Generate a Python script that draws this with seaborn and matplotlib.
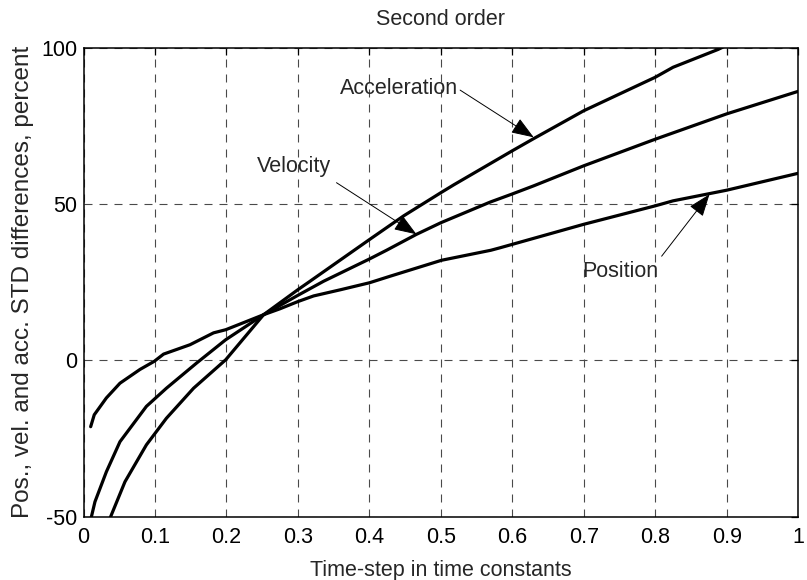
import matplotlib
matplotlib.use("Agg")
import matplotlib.pyplot as plt
import numpy as np
import pandas as pd
import seaborn as sns

# Relative STD differences (percent) versus time-step (in time constants)
pos_t = [0.010, 0.015, 0.032, 0.051, 0.079, 0.099, 0.112, 0.149, 0.182, 0.199,
         0.252, 0.275, 0.300, 0.322, 0.360, 0.400, 0.429, 0.501, 0.570, 0.583,
         0.700, 0.800, 0.825, 0.900, 1.000]
pos_d = [-21.2, -17.4, -12.0, -7.3, -2.9, -0.3, 2.0, 5.0, 8.8, 9.8,
         14.6, 16.5, 18.8, 20.6, 22.6, 24.8, 26.9, 32.0, 35.2, 36.0,
         43.5, 49.4, 51.0, 54.4, 59.8]

vel_t = [0.0105, 0.016, 0.032, 0.051, 0.088, 0.116, 0.158, 0.199, 0.252, 0.300,
         0.336, 0.400, 0.424, 0.466, 0.500, 0.569, 0.600, 0.630, 0.700, 0.800,
         0.900, 1.000]
vel_d = [-50.5, -45.2, -35.6, -26.0, -14.7, -8.9, -0.9, 6.6, 14.6, 20.8,
         25.3, 32.4, 35.2, 40.3, 44.0, 50.6, 53.2, 55.8, 62.2, 70.7,
         78.8, 86.0]

acc_t = [0.037, 0.058, 0.088, 0.116, 0.154, 0.199, 0.252, 0.300, 0.317, 0.400,
         0.448, 0.500, 0.518, 0.600, 0.630, 0.700, 0.800, 0.825, 0.888, 0.920]
acc_d = [-50.5, -38.8, -27.0, -18.5, -8.9, 0.2, 14.6, 22.6, 25.3, 38.6,
         46.2, 53.6, 56.1, 67.0, 70.9, 79.8, 90.5, 93.7, 99.4, 103.0]

x_ticks = [0, 0.1, 0.2, 0.3, 0.4, 0.5, 0.6, 0.7, 0.8, 0.9, 1]
x_tick_labels = ["0", "0.1", "0.2", "0.3", "0.4", "0.5", "0.6", "0.7", "0.8", "0.9", "1"]
y_ticks = [-50, 0, 50, 100]
y_tick_labels = ["-50", "0", "50", "100"]

# (label, text centre, arrow tail, arrow tip) in data coordinates
callouts = [
    ("Acceleration", (0.4416, 86.9), (0.527, 86.4), (0.630, 71.3)),
    ("Velocity", (0.2946, 61.9), (0.354, 56.8), (0.466, 40.3)),
    ("Position", (0.751, 28.3), (0.809, 33.3), (0.876, 53.1)),
]

frames = []
for name, t, d in (("Position", pos_t, pos_d),
                   ("Velocity", vel_t, vel_d),
                   ("Acceleration", acc_t, acc_d)):
    frames.append(pd.DataFrame({"t": t, "d": d, "series": name}))
df = pd.concat(frames, ignore_index=True)

sns.set_style("white")
plt.rcParams["font.family"] = ["Liberation Sans", "DejaVu Sans"]
FS = 15.5
plt.rcParams["font.size"] = FS

fig = plt.figure(figsize=(8.07, 5.80), dpi=100)
ax = fig.add_axes([0.1035, 0.109, 0.8855, 0.809])

sns.lineplot(data=df, x="t", y="d", units="series", estimator=None, sort=False,
             color="black", linewidth=2.3, ax=ax, legend=False, zorder=3)

ax.set_xlim(0, 1)
ax.set_ylim(-50, 100)
ax.set_xticks(x_ticks)
ax.set_xticklabels(x_tick_labels)
ax.set_yticks(y_ticks)
ax.set_yticklabels(y_tick_labels)

ax.grid(True, color="#4a4a4a", linewidth=0.8, linestyle=(0, (7.2, 6.3)))
ax.set_axisbelow(True)

for sp in ax.spines.values():
    sp.set_visible(True)
    sp.set_color("black")
    sp.set_linewidth(1.1)

ax.tick_params(direction="in", top=True, right=True, length=5, width=0.9,
               colors="black", labelsize=FS)
ax.tick_params(axis="x", pad=7)
ax.tick_params(axis="y", pad=4.5)

ax.set_title("Second order", fontsize=FS, pad=16)
ax.set_xlabel("Time-step in time constants", fontsize=FS, labelpad=9)
ax.set_ylabel("Pos., vel. and acc. STD differences, percent", fontsize=17.5, labelpad=5)

for label, center, tail, tip in callouts:
    ax.text(center[0], center[1], label, ha="center", va="center", fontsize=FS, zorder=5)
    ax.annotate("", xy=tip, xytext=tail,
                arrowprops=dict(arrowstyle="-|>,head_length=0.7,head_width=0.26",
                                color="black", linewidth=0.7, mutation_scale=20,
                                shrinkA=0, shrinkB=0),
                zorder=5)

fig.savefig("out.png", dpi=100)
